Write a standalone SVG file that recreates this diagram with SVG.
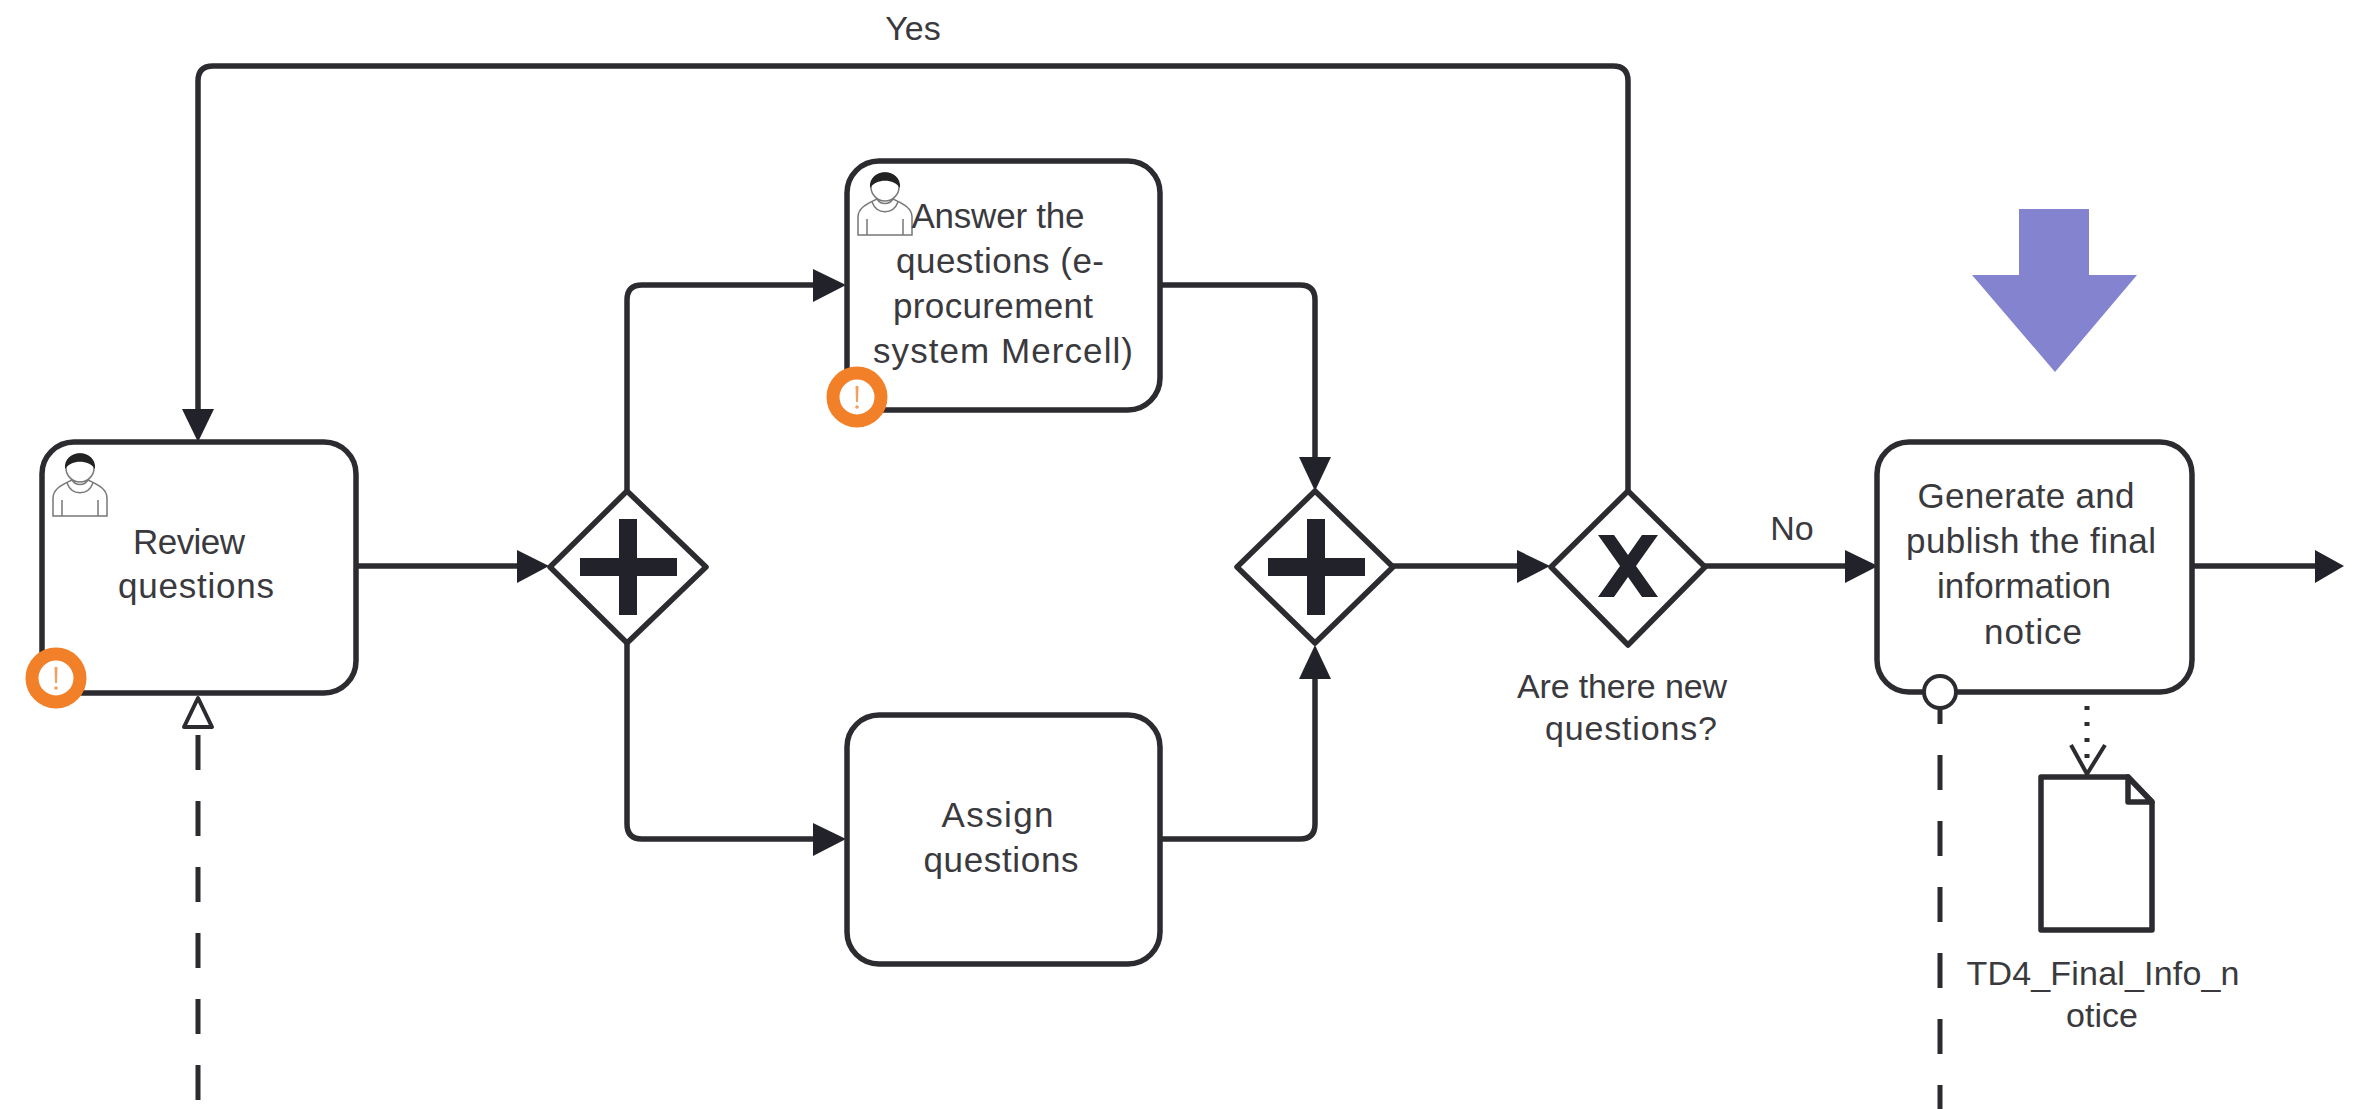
<svg xmlns="http://www.w3.org/2000/svg" width="2359" height="1109" viewBox="0 0 2359 1109">
  <style>
    .shape { fill: #fff; stroke: #2b2b30; stroke-width: 5.5; stroke-linejoin: round; }
    .thin { stroke-width: 4; }
    .flow { fill: none; stroke: #2b2b30; stroke-width: 5.5; }
    .open { fill: none; stroke: #2b2b30; stroke-width: 4; }
    .dash { fill: none; stroke: #2b2b30; stroke-width: 5; stroke-dasharray: 35 31; }
    .dot { fill: none; stroke: #2b2b30; stroke-width: 5; stroke-dasharray: 4 12; }
    .solid { fill: #22222a; stroke: none; }
    .person { fill: #fff; stroke: #777; stroke-width: 1.5; }
    .seam { fill: none; stroke: #777; stroke-width: 1.5; }
    .hair { fill: #222; stroke: none; }
    .badge { fill: #fff; stroke: #f28028; stroke-width: 13; }
    .bang { fill: #f2a060; stroke: none; }
    text { font-family: "Liberation Sans", Arial, sans-serif; font-size: 34px; fill: #3a3a3e; text-anchor: middle; }
    .task { font-size: 35px; }
  </style>
  <defs>
    <g id="user">
      <path class="person" d="M-27 48 V30 C-27 20 -16 16 -8 12 C-4 18 4 18 8 12 C16 16 27 20 27 30 V48 Z"/>
      <path class="seam" d="M-18 48 V32 M18 48 V32"/>
      <path class="seam" d="M-13 15 C-8 28 8 28 13 15"/>
      <circle class="person" cx="0" cy="0" r="14"/>
      <path class="hair" d="M-15 1 C-17 -20 17 -20 15 1 C9 -8 -8 -9 -15 1 Z"/>
    </g>
    <g id="warn">
      <circle class="badge" r="24"/>
      <path class="bang" d="M-1.5 -11 H1.5 L1 5 H-1 Z"/>
      <circle class="bang" cy="10" r="1.8"/>
    </g>
    <path id="plus" class="solid" d="M-9 -48 H9 V-9 H49 V9 H9 V48 H-9 V9 H-48 V-9 H-9 Z"/>
  </defs>

  <g id="connectors">
    <path class="flow" d="M1628 491 V81 Q1628 66 1613 66 H213 Q198 66 198 81 V415"/>
    <path class="flow" d="M356 566 H520"/>
    <path class="flow" d="M627 491 V300 Q627 285 642 285 H815"/>
    <path class="flow" d="M627 643 V824 Q627 839 642 839 H815"/>
    <path class="flow" d="M1160 285 H1300 Q1315 285 1315 300 V460"/>
    <path class="flow" d="M1160 839 H1300 Q1315 839 1315 824 V676"/>
    <path class="flow" d="M1393 566 H1520"/>
    <path class="flow" d="M1705 566 H1848"/>
    <path class="flow" d="M2192 566 H2318"/>
    <path class="solid" d="M182 409 H214 L198 442 Z"/>
    <path class="solid" d="M517 550 V583 L549 566 Z"/>
    <path class="solid" d="M813 269 V302 L846 285 Z"/>
    <path class="solid" d="M813 823 V856 L846 839 Z"/>
    <path class="solid" d="M1299 457 H1331 L1315 491 Z"/>
    <path class="solid" d="M1299 679 H1331 L1315 645 Z"/>
    <path class="solid" d="M1517 550 V583 L1550 566 Z"/>
    <path class="solid" d="M1845 550 V583 L1878 566 Z"/>
    <path class="solid" d="M2315 550 V583 L2344 566 Z"/>
    <path class="dash" d="M198 735 V1109"/>
    <path class="shape thin" d="M198 698 L212 727 H184 Z"/>
    <path class="dash" d="M1940 689 V1109"/>
    <path class="dot" d="M2087 706 V770"/>
    <path class="open" d="M2071 745 L2087 774 L2105 745"/>
  </g>

  <g id="review-questions">
    <rect class="shape" x="42" y="442" width="314" height="251" rx="32"/>
    <use href="#user" x="80" y="468"/>
    <use href="#warn" x="56" y="678"/>
    <text class="task" x="189" y="554" textLength="112">Review</text>
    <text class="task" x="196" y="598" textLength="156">questions</text>
  </g>
  <g id="answer-questions">
    <rect class="shape" x="847" y="161" width="313" height="249" rx="32"/>
    <use href="#user" x="885" y="187"/>
    <use href="#warn" x="857" y="397"/>
    <text class="task" x="998" y="228" textLength="173">Answer the</text>
    <text class="task" x="1000" y="273" textLength="208">questions (e-</text>
    <text class="task" x="993" y="318" textLength="200">procurement</text>
    <text class="task" x="1003" y="363" textLength="260">system Mercell)</text>
  </g>
  <g id="assign-questions">
    <rect class="shape" x="847" y="715" width="313" height="249" rx="32"/>
    <text class="task" x="997.5" y="827" textLength="112">Assign</text>
    <text class="task" x="1001" y="872" textLength="155">questions</text>
  </g>
  <g id="generate-notice">
    <rect class="shape" x="1877" y="442" width="315" height="250" rx="32"/>
    <circle class="shape thin" cx="1940" cy="692" r="16"/>
    <text class="task" x="2026" y="508" textLength="217">Generate and</text>
    <text class="task" x="2031" y="553" textLength="250">publish the final</text>
    <text class="task" x="2024" y="598" textLength="174">information</text>
    <text class="task" x="2033" y="644" textLength="98">notice</text>
  </g>
  <g id="gateway-split">
    <path class="shape" d="M627 491 L706 567 L627 643 L550 567 Z"/>
    <use href="#plus" x="628" y="567"/>
  </g>
  <g id="gateway-join">
    <path class="shape" d="M1315 491 L1393 567 L1315 643 L1237 567 Z"/>
    <use href="#plus" x="1316" y="567"/>
  </g>
  <g id="gateway-new-questions">
    <path class="shape" d="M1628 491 L1705 567 L1628 645 L1551 567 Z"/>
    <path class="solid" d="M1598 535 H1614 L1628 555 L1642 535 H1658 L1636 566 L1658 597 H1642 L1628 577 L1614 597 H1598 L1620 566 Z"/>
    <text x="1622" y="698" textLength="210">Are there new</text>
    <text x="1631" y="740" textLength="172">questions?</text>
  </g>
  <g id="document-td4">
    <path class="shape" d="M2041 777 H2128 L2152 802 V930 H2041 Z"/>
    <path class="shape" d="M2128 777 V802 H2152 Z"/>
    <text x="2103" y="985" textLength="273">TD4_Final_Info_n</text>
    <text x="2102" y="1027">otice</text>
  </g>
  <g id="label-yes"><text x="913" y="40">Yes</text></g>
  <g id="label-no"><text x="1792" y="540">No</text></g>
  <g id="marker-arrow">
    <path fill="#8383d0" d="M2019 209 H2089 V275 H2137 L2055 372 L1972 275 H2019 Z"/>
  </g>
</svg>
